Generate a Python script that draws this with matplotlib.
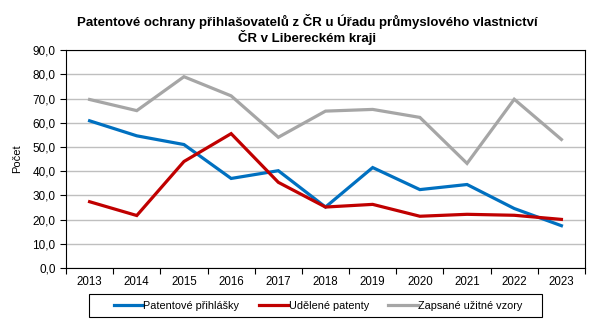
import matplotlib
matplotlib.use("Agg")
import matplotlib.pyplot as plt
from matplotlib.ticker import FuncFormatter, MultipleLocator
from matplotlib.patches import Rectangle

years = ["2013", "2014", "2015", "2016", "2017", "2018", "2019", "2020", "2021", "2022", "2023"]
prihlasky = [60.8, 54.6, 51.0, 37.0, 40.2, 25.2, 41.5, 32.4, 34.5, 24.6, 17.5]
patenty = [27.4, 21.7, 44.0, 55.5, 35.4, 25.2, 26.3, 21.4, 22.2, 21.8, 20.1]
vzory = [69.6, 65.0, 79.0, 71.1, 54.0, 64.8, 65.5, 62.2, 43.2, 69.7, 53.1]
series_names = ["Patentové přihlášky", "Udělené patenty", "Zapsané užitné vzory"]
colors = ["#0070C0", "#C00000", "#A6A6A6"]

plt.rcParams['font.family'] = ['Liberation Sans', 'DejaVu Sans']

fig = plt.figure(figsize=(6.0, 3.23), dpi=100)
ax = fig.add_axes([0.11, 0.170, 0.865, 0.675])

x = list(range(len(years)))
for vals, name, c in zip([prihlasky, patenty, vzory], series_names, colors):
    ax.plot(x, vals, color=c, lw=2.3, label=name, solid_joinstyle='miter')

ax.set_xlim(-0.5, len(years) - 0.5)
ax.set_ylim(0, 90)
ax.yaxis.set_major_locator(MultipleLocator(10))
ax.yaxis.set_major_formatter(FuncFormatter(lambda v, p: f"{v:.1f}".replace(".", ",")))
ax.set_xticks(x)
ax.set_xticklabels(years)
ax.set_xticks([i - 0.5 for i in range(len(years) + 1)], minor=True)
ax.tick_params(axis='x', which='major', length=0, pad=6, labelsize=8.3)
ax.tick_params(axis='x', which='minor', length=4, width=0.8, direction='out')
ax.tick_params(axis='y', length=4, width=0.8, labelsize=8.5, direction='out')
ax.grid(axis='y', color='#BFBFBF', lw=1)
ax.set_axisbelow(True)
for s in ax.spines.values():
    s.set_color('black')
    s.set_linewidth(0.8)

ax.set_ylabel("Počet", fontsize=8)
ax.yaxis.set_label_coords(-0.085, 0.5)

fig.text(0.512, 0.909, "Patentové ochrany přihlašovatelů z ČR u Úřadu průmyslového vlastnictví\nČR v Libereckém kraji",
         ha='center', va='center', fontsize=9.5, fontweight='bold', linespacing=1.1)

fig.patches.append(Rectangle((89 / 600, 6 / 323), 453 / 600, 23 / 323, transform=fig.transFigure,
                             fill=False, edgecolor='black', lw=0.8))
leg = fig.legend(loc='center', bbox_to_anchor=(0.530, 0.054), ncol=3, fontsize=7.8,
                 frameon=False, handlelength=2.7, handletextpad=0.05, columnspacing=1.8)

fig.savefig("out.png", dpi=100)
